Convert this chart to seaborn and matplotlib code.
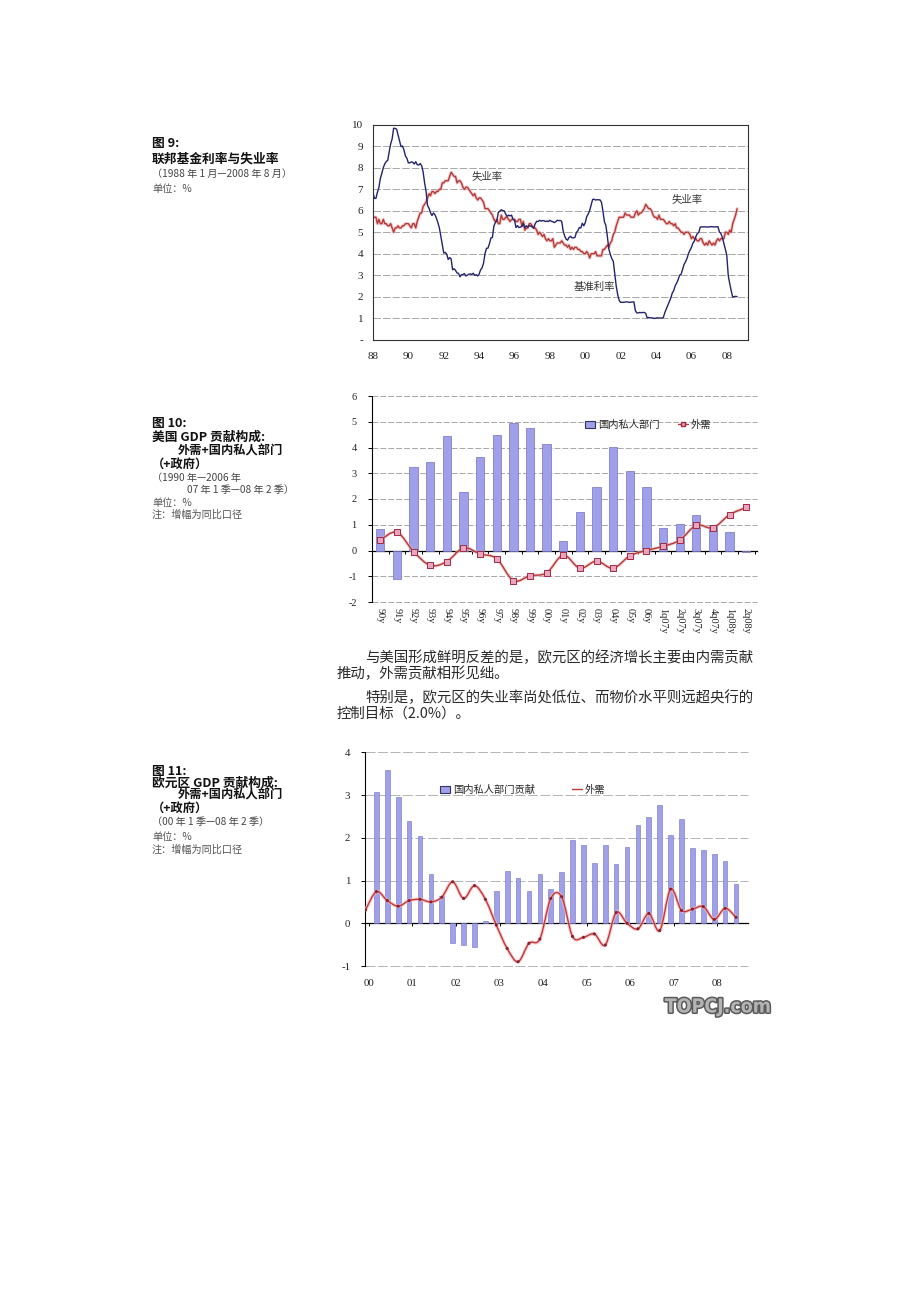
import numpy as np
import pandas as pd
import matplotlib
matplotlib.use("Agg")
import matplotlib.pyplot as plt
import seaborn as sns
from matplotlib.path import Path
from matplotlib.patches import PathPatch, Patch
from matplotlib.lines import Line2D
import matplotlib.patheffects as pe

sns.set_theme(style="white")
plt.rcParams["font.family"] = ["Noto Sans CJK SC", "DejaVu Sans"]
plt.rcParams["axes.unicode_minus"] = False

# ---------------- DATA ----------------
# Fig 9: monthly, Jan 1988 - Aug 2008
fed_funds = [
    6.83, 6.58, 6.58, 6.87, 7.09, 7.51, 7.75, 8.01, 8.19, 8.30, 8.35, 8.76,
    9.12, 9.36, 9.85, 9.84, 9.81, 9.53, 9.24, 8.99, 9.02, 8.84, 8.55, 8.45,
    8.23, 8.24, 8.28, 8.26, 8.18, 8.29, 8.15, 8.13, 8.20, 8.11, 7.81, 7.31,
    6.91, 6.25, 6.12, 5.91, 5.78, 5.90, 5.82, 5.66, 5.45, 5.21, 4.81, 4.43,
    4.03, 4.06, 3.98, 3.73, 3.82, 3.76, 3.25, 3.30, 3.22, 3.10, 3.09, 2.92,
    3.02, 3.03, 3.07, 2.96, 3.00, 3.04, 3.06, 3.03, 3.09, 2.99, 3.02, 2.96,
    3.05, 3.25, 3.34, 3.56, 4.01, 4.25, 4.26, 4.47, 4.73, 4.76, 5.29, 5.45,
    5.53, 5.92, 5.98, 6.05, 6.01, 6.00, 5.85, 5.74, 5.80, 5.76, 5.80, 5.60,
    5.56, 5.22, 5.31, 5.22, 5.24, 5.27, 5.40, 5.22, 5.30, 5.24, 5.31, 5.29,
    5.25, 5.19, 5.39, 5.51, 5.50, 5.56, 5.52, 5.54, 5.54, 5.50, 5.52, 5.50,
    5.56, 5.51, 5.49, 5.45, 5.49, 5.56, 5.54, 5.55, 5.51, 5.07, 4.83, 4.68,
    4.63, 4.76, 4.81, 4.74, 4.74, 4.76, 4.99, 5.07, 5.22, 5.20, 5.42, 5.30,
    5.45, 5.73, 5.85, 6.02, 6.27, 6.53, 6.54, 6.50, 6.52, 6.51, 6.51, 6.40,
    5.98, 5.49, 5.31, 4.80, 4.21, 3.97, 3.77, 3.65, 3.07, 2.49, 2.09, 1.82,
    1.73, 1.74, 1.73, 1.75, 1.75, 1.75, 1.73, 1.74, 1.75, 1.75, 1.34, 1.24,
    1.24, 1.26, 1.25, 1.26, 1.26, 1.22, 1.01, 1.03, 1.01, 1.01, 1.00, 0.98,
    1.00, 1.01, 1.00, 1.00, 1.00, 1.03, 1.26, 1.43, 1.61, 1.76, 1.93, 2.16,
    2.28, 2.50, 2.63, 2.79, 3.00, 3.04, 3.26, 3.50, 3.62, 3.78, 4.00, 4.16,
    4.29, 4.49, 4.59, 4.79, 4.94, 4.99, 5.24, 5.25, 5.25, 5.25, 5.25, 5.24,
    5.25, 5.26, 5.26, 5.25, 5.25, 5.25, 5.26, 5.02, 4.94, 4.76, 4.49, 4.24,
    3.94, 2.98, 2.61, 2.28, 1.98, 2.00, 2.01, 2.00,
]
unemployment = [
    5.7, 5.7, 5.7, 5.4, 5.6, 5.4, 5.4, 5.6, 5.4, 5.4, 5.3, 5.3,
    5.4, 5.2, 5.0, 5.2, 5.2, 5.3, 5.2, 5.2, 5.3, 5.3, 5.4, 5.4,
    5.4, 5.3, 5.2, 5.4, 5.4, 5.2, 5.5, 5.7, 5.9, 5.9, 6.2, 6.3,
    6.4, 6.6, 6.8, 6.7, 6.9, 6.9, 6.8, 6.9, 6.9, 7.0, 7.0, 7.3,
    7.3, 7.4, 7.4, 7.4, 7.6, 7.8, 7.7, 7.6, 7.6, 7.3, 7.4, 7.4,
    7.3, 7.1, 7.0, 7.1, 7.1, 7.0, 6.9, 6.8, 6.7, 6.8, 6.6, 6.5,
    6.6, 6.6, 6.5, 6.4, 6.1, 6.1, 6.1, 6.0, 5.9, 5.8, 5.6, 5.5,
    5.6, 5.4, 5.4, 5.8, 5.6, 5.6, 5.7, 5.7, 5.6, 5.5, 5.6, 5.6,
    5.6, 5.5, 5.5, 5.6, 5.6, 5.3, 5.5, 5.1, 5.2, 5.2, 5.4, 5.4,
    5.3, 5.2, 5.2, 5.1, 4.9, 5.0, 4.9, 4.8, 4.9, 4.7, 4.6, 4.7,
    4.6, 4.6, 4.7, 4.3, 4.4, 4.5, 4.5, 4.5, 4.6, 4.5, 4.4, 4.4,
    4.3, 4.4, 4.2, 4.3, 4.2, 4.3, 4.3, 4.2, 4.2, 4.1, 4.1, 4.0,
    4.0, 4.1, 4.0, 3.8, 4.0, 4.0, 4.0, 4.1, 3.9, 3.9, 3.9, 3.9,
    4.2, 4.2, 4.3, 4.4, 4.3, 4.5, 4.6, 4.9, 5.0, 5.3, 5.5, 5.7,
    5.7, 5.7, 5.7, 5.9, 5.8, 5.8, 5.8, 5.7, 5.7, 5.7, 5.9, 6.0,
    5.8, 5.9, 5.9, 6.0, 6.1, 6.3, 6.2, 6.1, 6.1, 6.0, 5.8, 5.7,
    5.7, 5.6, 5.8, 5.6, 5.6, 5.6, 5.5, 5.4, 5.4, 5.5, 5.4, 5.4,
    5.3, 5.4, 5.2, 5.2, 5.1, 5.0, 5.0, 4.9, 5.0, 5.0, 5.0, 4.9,
    4.7, 4.8, 4.7, 4.7, 4.6, 4.6, 4.7, 4.7, 4.5, 4.4, 4.5, 4.4,
    4.6, 4.5, 4.4, 4.5, 4.4, 4.6, 4.7, 4.6, 4.7, 4.7, 4.7, 5.0,
    5.0, 4.9, 5.1, 5.0, 5.4, 5.6, 5.8, 6.1,
]
fig9_xticks = [1988, 1990, 1992, 1994, 1996, 1998, 2000, 2002, 2004, 2006, 2008]
fig9_xlabels = ["88", "90", "92", "94", "96", "98", "00", "02", "04", "06", "08"]
fig9_ylabels = ["-", "1", "2", "3", "4", "5", "6", "7", "8", "9", "10"]

# Fig 10: US GDP contributions
us_periods = ["90y", "91y", "92y", "93y", "94y", "95y", "96y", "97y", "98y", "99y",
              "00y", "01y", "02y", "03y", "04y", "05y", "06y",
              "1q07y", "2q07y", "3q07y", "4q07y", "1q08y", "2q08y"]
us_private = [0.82, -1.10, 3.24, 3.42, 4.43, 2.29, 3.65, 4.48, 4.96, 4.75,
              4.15, 0.36, 1.49, 2.46, 4.02, 3.07, 2.47,
              0.88, 1.02, 1.36, 0.98, 0.70, -0.06]
us_external = [0.41, 0.71, -0.04, -0.58, -0.43, 0.10, -0.13, -0.32, -1.17, -0.98,
               -0.87, -0.18, -0.69, -0.41, -0.69, -0.21, 0.00,
               0.16, 0.40, 0.98, 0.88, 1.39, 1.67]

# Fig 11: Euro area GDP contributions, quarterly 2000Q1 - 2008Q2
ez_quarters = [f"{y:02d}Q{q}" for y in range(0, 9) for q in range(1, 5)][:34]
ez_private = [3.07, 3.59, 2.96, 2.39, 2.04, 1.16, 0.64, -0.47, -0.50, -0.55,
              0.05, 0.76, 1.22, 1.06, 0.76, 1.16, 0.81, 1.20, 1.94, 1.83,
              1.40, 1.83, 1.38, 1.79, 2.31, 2.49, 2.77, 2.07, 2.43, 1.76,
              1.72, 1.61, 1.45, 0.92]
# external demand line starts one quarter earlier (1999Q4)
ez_external = [0.31, 0.74, 0.53, 0.40, 0.53, 0.56, 0.50, 0.61, 0.97, 0.58,
               0.88, 0.56, -0.04, -0.59, -0.90, -0.47, -0.37, 0.58, 0.62, -0.31,
               -0.33, -0.25, -0.51, 0.25, 0.00, -0.13, 0.23, -0.17, 0.80, 0.30,
               0.33, 0.39, 0.09, 0.35, 0.14]
ez_year_labels = ["00", "01", "02", "03", "04", "05", "06", "07", "08"]

# ---------------- STYLE ----------------
W, H = 920, 1302
NAVY = "#23236e"
RED = "#b23b36"
HALO = "#f2b9bf"
BAR = "#9f9fea"
BAR_EDGE = "#7272c0"
GRID = "#9a9a9a"
SERIF = ["Liberation Serif", "DejaVu Serif"]
CJK = ["Noto Sans CJK SC", "DejaVu Sans"]

fig = plt.figure(figsize=(W / 100, H / 100), dpi=100)
fig.patch.set_facecolor("white")


def axes_px(left, top, right, bottom):
    return fig.add_axes([left / W, 1 - bottom / H, (right - left) / W, (bottom - top) / H])


def ftext(x, y, s, size=7.0, color="#222222", weight="normal", ha="left", family=CJK):
    fig.text(x / W, 1 - y / H, s, fontsize=size, color=color, fontweight=weight,
             ha=ha, va="center", family=family)


def smooth_path(xs, ys, t=1 / 6):
    xs = list(xs); ys = list(ys)
    n = len(xs)
    verts = [(xs[0], ys[0])]
    codes = [Path.MOVETO]
    for i in range(n - 1):
        x0, y0 = (xs[i - 1], ys[i - 1]) if i > 0 else (xs[i], ys[i])
        x3, y3 = (xs[i + 2], ys[i + 2]) if i + 2 < n else (xs[i + 1], ys[i + 1])
        c1 = (xs[i] + (xs[i + 1] - x0) * t, ys[i] + (ys[i + 1] - y0) * t)
        c2 = (xs[i + 1] - (x3 - xs[i]) * t, ys[i + 1] - (y3 - ys[i]) * t)
        verts += [c1, c2, (xs[i + 1], ys[i + 1])]
        codes += [Path.CURVE4] * 3
    return Path(verts, codes)


def style_ticks(ax, size=7.5):
    for lab in ax.get_xticklabels() + ax.get_yticklabels():
        lab.set_family(SERIF)
        lab.set_fontsize(size)
        lab.set_color("#222222")


# ---------------- FIG 9 ----------------
ax1 = axes_px(373, 125, 748, 339.5)
months = pd.date_range("1988-01-01", periods=len(fed_funds), freq="MS")
xyear = months.year + (months.month - 1) / 12.0
df9 = pd.DataFrame({"t": xyear, "fed": fed_funds, "unemp": unemployment})
sns.lineplot(data=df9, x="t", y="unemp", ax=ax1, color=RED, lw=1.0,
             path_effects=[pe.Stroke(linewidth=2.4, foreground=HALO, alpha=0.7), pe.Normal()])
sns.lineplot(data=df9, x="t", y="fed", ax=ax1, color=NAVY, lw=1.0)
ax1.set_xlim(1988, 2009.2)
ax1.set_ylim(0, 10)
ax1.set_xticks(fig9_xticks, fig9_xlabels)
ax1.set_yticks(range(0, 11), fig9_ylabels)
ax1.set_xlabel(""); ax1.set_ylabel("")
for yv in range(1, 10):
    ax1.axhline(yv, color=GRID, lw=0.6, ls=(0, (9, 2.5)), zorder=0)
for sp in ax1.spines.values():
    sp.set_color("#333333"); sp.set_linewidth(0.8)
ax1.tick_params(axis="x", length=0, pad=9)
ax1.tick_params(axis="y", length=0, pad=7)
style_ticks(ax1, 8)
ax1.text(1994.44, 7.58, "失业率", fontsize=7.5, color="#333333", ha="center", va="center", family=CJK)
ax1.text(2005.74, 6.50, "失业率", fontsize=7.5, color="#333333", ha="center", va="center", family=CJK)
ax1.text(2000.54, 2.45, "基准利率", fontsize=7.5, color="#333333", ha="center", va="center", family=CJK)

# ---------------- FIG 10 ----------------
ax2 = axes_px(372, 396, 757, 602)
df10 = pd.DataFrame({"period": us_periods, "private": us_private, "external": us_external})
sns.barplot(data=df10, x="period", y="private", ax=ax2, color=BAR, saturation=1,
            width=0.5, edgecolor=BAR_EDGE, linewidth=0.5, zorder=2)
pos10 = np.arange(len(us_periods))
ax2.add_patch(PathPatch(smooth_path(pos10, us_external), fill=False, edgecolor=RED, lw=1.0,
                        zorder=4, path_effects=[pe.Stroke(linewidth=2.4, foreground=HALO, alpha=0.7), pe.Normal()]))
sns.scatterplot(x=pos10, y=us_external, ax=ax2, marker="s", s=14, color="#eaa4bd",
                edgecolor="#a02a45", linewidth=0.7, zorder=5)
ax2.set_xlim(-0.5, 22.65)
ax2.set_ylim(-2, 6)
yt2 = list(range(-2, 7))
ax2.set_yticks(yt2, [str(v) for v in yt2])
ax2.set_xticks(pos10, us_periods, rotation=-90)
ax2.set_xlabel(""); ax2.set_ylabel("")
for yv in yt2:
    if yv != 0:
        ax2.axhline(yv, color=GRID, lw=0.6, ls=(0, (7, 2.5)), zorder=0, clip_on=False)
for s in ["top", "right", "bottom"]:
    ax2.spines[s].set_visible(False)
ax2.spines["left"].set_color("black"); ax2.spines["left"].set_linewidth(0.8)
ax2.tick_params(axis="y", length=3, width=0.7, direction="out", pad=8, left=True, color="black")
ax2.tick_params(axis="x", length=0, pad=4)
for lab in ax2.get_xticklabels():
    lab.set_va("top")
style_ticks(ax2, 7.4)
sec2 = ax2.secondary_xaxis(0.25)
sec2.set_xticks(np.arange(-0.5, len(us_periods), 1.0))
sec2.tick_params(axis="x", length=2.5, width=0.7, direction="out", labelbottom=False, color="black")
sec2.spines["bottom"].set_color("black"); sec2.spines["bottom"].set_linewidth(0.9)
h1 = Patch(facecolor=BAR, edgecolor="#33336a", linewidth=0.8)
h2 = Line2D([], [], color=RED, lw=1.0, marker="s", markersize=3.5,
            markerfacecolor="#eaa4bd", markeredgecolor="#a02a45")
fig.legend([h1, h2], ["国内私人部门", "外需"], loc="center left",
           bbox_to_anchor=(585 / W, 1 - 425 / H), ncol=2, frameon=False,
           fontsize=7.4, handlelength=1.0, handleheight=0.8, handletextpad=0.25,
           columnspacing=1.8, borderpad=0, borderaxespad=0)

# ---------------- FIG 11 ----------------
ax3 = axes_px(365.5, 752.3, 748, 966)
df11 = pd.DataFrame({"quarter": ez_quarters, "private": ez_private})
sns.barplot(data=df11, x="quarter", y="private", ax=ax3, color=BAR, saturation=1,
            width=0.43, edgecolor=BAR_EDGE, linewidth=0.4, zorder=2)
pos11 = np.arange(-1, len(ez_external) - 1)
ax3.add_patch(PathPatch(smooth_path(pos11, ez_external), fill=False, edgecolor="#c03a3a", lw=1.0,
                        zorder=4, path_effects=[pe.Stroke(linewidth=2.6, foreground=HALO, alpha=0.7), pe.Normal()]))
sns.scatterplot(x=pos11, y=ez_external, ax=ax3, marker="o", s=5, color="#8a2030",
                edgecolor="none", zorder=5)
ax3.set_xlim(-1, 34.1)
ax3.set_ylim(-1, 4)
yt3 = list(range(-1, 5))
ax3.set_yticks(yt3, [str(v) for v in yt3])
ypos = np.arange(len(ez_year_labels)) * 4 - 0.7
ax3.set_xticks(ypos, ez_year_labels)
ax3.set_xlabel(""); ax3.set_ylabel("")
for yv in yt3:
    if yv != 0:
        ax3.axhline(yv, color="#a8a8a8", lw=0.6, ls=(0, (12, 3)), zorder=0, clip_on=False)
for s in ["top", "right", "bottom"]:
    ax3.spines[s].set_visible(False)
ax3.spines["left"].set_color("black"); ax3.spines["left"].set_linewidth(0.8)
ax3.tick_params(axis="y", length=3, width=0.7, direction="out", pad=8, left=True, color="black")
ax3.tick_params(axis="x", length=0, pad=9)
style_ticks(ax3, 7.8)
sec3 = ax3.secondary_xaxis(0.2)
sec3.set_xticks(ypos)
sec3.tick_params(axis="x", length=2.5, width=0.7, direction="out", labelbottom=False, color="black")
sec3.spines["bottom"].set_color("black"); sec3.spines["bottom"].set_linewidth(0.9)
h3 = Patch(facecolor=BAR, edgecolor="#33336a", linewidth=0.8)
h4 = Line2D([], [], color="#c03a3a", lw=1.0)
fig.legend([h3, h4], ["国内私人部门贡献", "外需"], loc="center left",
           bbox_to_anchor=(440 / W, 1 - 790 / H), ncol=2, frameon=False,
           fontsize=7.4, handlelength=1.0, handleheight=0.8, handletextpad=0.25,
           columnspacing=3.6, borderpad=0, borderaxespad=0)

# ---------------- PAGE TEXT ----------------
BL = 152
TS, SS = 9.2, 7.3
ftext(BL, 144, "图 9:", TS, "#111111", "bold")
ftext(BL, 159, "联邦基金利率与失业率", TS, "#111111", "bold")
ftext(BL, 174, "（1988 年 1 月—2008 年 8 月）", SS, "#444444")
ftext(BL, 189, "单位：%", SS, "#555555")

ftext(BL, 424, "图 10:", TS, "#111111", "bold")
ftext(BL, 437, "美国 GDP 贡献构成:", TS, "#111111", "bold")
ftext(178, 451, "外需+国内私人部门", 8.8, "#111111", "bold")
ftext(BL, 464, "（+政府）", 8.8, "#111111", "bold")
ftext(BL, 478, "（1990 年—2006 年", SS, "#444444")
ftext(187, 490, "07 年 1 季—08 年 2 季）", SS, "#444444")
ftext(BL, 503, "单位：%", SS, "#555555")
ftext(BL, 515, "注：增幅为同比口径", SS, "#555555")

ftext(BL, 771, "图 11:", TS, "#111111", "bold")
ftext(BL, 783, "欧元区 GDP 贡献构成:", TS, "#111111", "bold")
ftext(178, 795, "外需+国内私人部门", 8.8, "#111111", "bold")
ftext(BL, 808, "（+政府）", 8.8, "#111111", "bold")
ftext(BL, 822, "（00 年 1 季—08 年 2 季）", SS, "#444444")
ftext(BL, 837, "单位：%", SS, "#555555")
ftext(BL, 850, "注：增幅为同比口径", SS, "#555555")

PCOL = "#2a2a2a"
ftext(365, 658, "与美国形成鲜明反差的是，欧元区的经济增长主要由内需贡献", 10.4, PCOL, "light")
ftext(337, 674, "推动，外需贡献相形见绌。", 10.4, PCOL, "light")
ftext(365, 698, "特别是，欧元区的失业率尚处低位、而物价水平则远超央行的", 10.4, PCOL, "light")
ftext(337, 714, "控制目标（2.0%）。", 10.4, PCOL, "light")

fig.text(718 / W, 1 - 1007 / H, "TOPCJ.com", fontsize=14, fontweight="bold",
         family=["DejaVu Sans"], fontstretch="condensed", color="#b4b4b4",
         ha="center", va="center",
         path_effects=[pe.Stroke(linewidth=2.2, foreground="#5a5a5a"), pe.Normal()])

fig.savefig("out.png", dpi=100, facecolor="white")
